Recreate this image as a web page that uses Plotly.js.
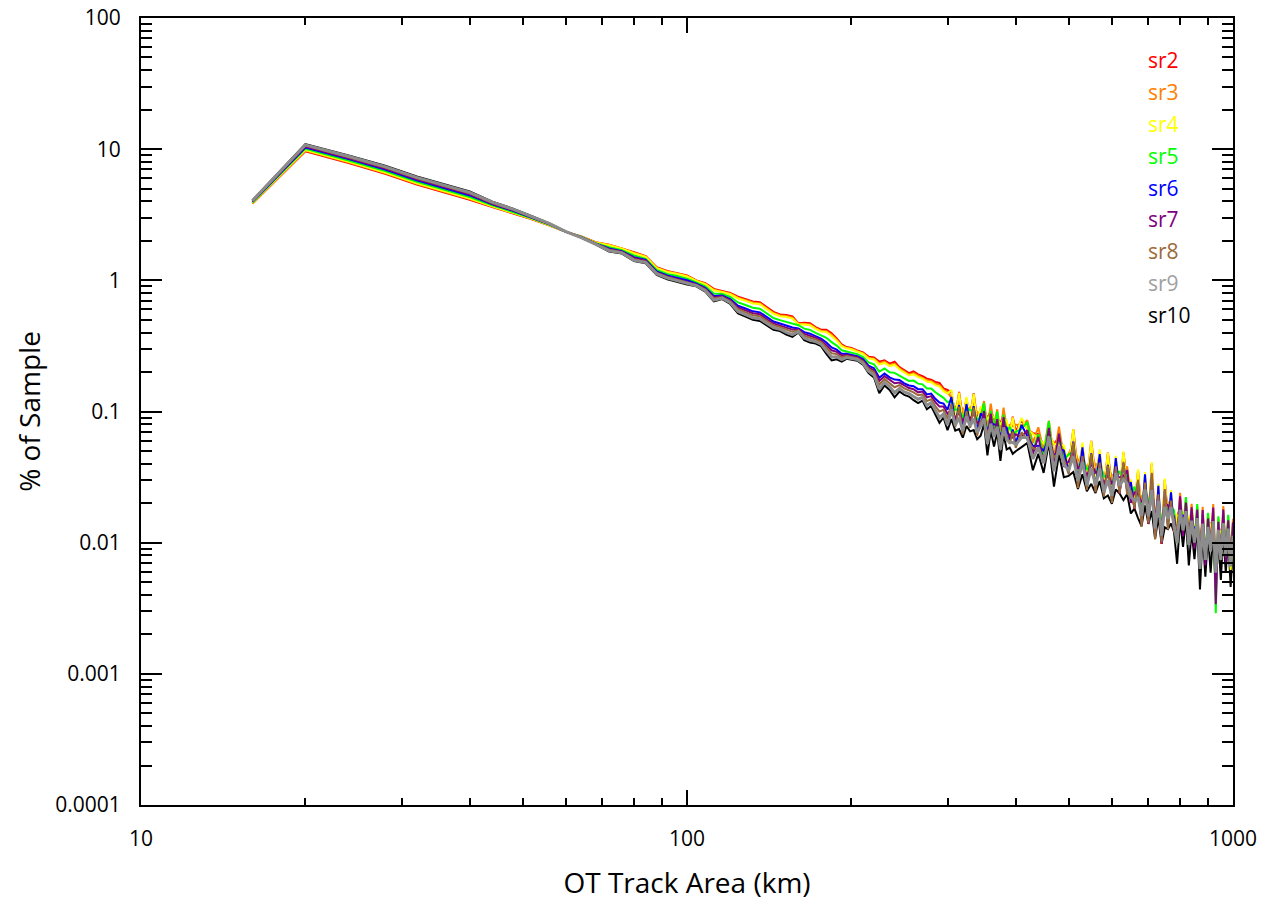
<!DOCTYPE html>
<html>
<head>
<meta charset="utf-8">
<script src="https://cdn.plot.ly/plotly-3.0.1.min.js"></script>
<style>html,body{margin:0;padding:0;background:#fff;}#chart{width:1271px;height:905px;}</style>
</head>
<body>
<div id="chart"></div>
<script>
// OT track area (km^2 bins)
const areaKm = [16,20,24,28,32,36,40,44,48,52,56,60,
 64,68,72,76,80,84,88,92,96,100,104,108,112,116,120,124,128,132,136,140,
 144,148,152,156,160,164,168,172,176,180,184,188,192,196,200,
 205,210,215,220,225,230,235,240,245,250,255,260,265,270,275,280,285,290,295,300,
 305,310,315,320,325,330,335,340,345,350,355,360,365,370,375,380,385,390,395,400,
 410,420,430,440,450,460,470,480,490,500,
 510,520,530,540,550,560,570,580,590,600,
 610,620,630,640,650,660,670,680,690,700,
 710,720,730,740,750,760,770,780,790,800,
 810,820,830,840,850,860,870,880,890,900,
 910,920,930,940,950,960,970,980,990,1000];

const seriesNames = ['sr2','sr3','sr4','sr5','sr6','sr7','sr8','sr9','sr10'];
const seriesColors = ['#ff0000','#ff8000','#ffff00','#00ff00','#0000ff','#800080','#9c6a38','#8c8c8c','#000000'];
const legendColors = ['#ff0000','#ff8000','#ffff00','#00ff00','#0000ff','#800080','#9c6a38','#a0a0a0','#000000'];

const sr2 = [3.85,9.65,7.85,6.50,5.38,4.70,4.12,3.62,3.25,2.92,2.62,2.34,
 2.16,1.95,1.87,1.76,1.64,1.53,1.26,1.18,1.14,1.09,
 1.00,0.95,0.86,0.83,0.80,0.75,0.72,0.69,0.68,0.62,
 0.575,0.55,0.545,0.53,0.47,0.475,0.47,0.44,0.42,0.42,
 0.395,0.36,0.325,0.31,0.305,
 0.292,0.282,0.262,0.258,0.240,0.246,0.232,0.240,0.218,0.206,
 0.196,0.202,0.192,0.186,0.178,0.175,0.168,0.165,0.150,0.146,
 0.140,0.0911,0.141,0.0892,0.124,0.090,0.138,0.0869,0.105,0.103,
 0.0886,0.101,0.0866,0.0889,0.0805,0.095,0.0824,0.0676,0.0913,0.0704,
 0.0859,0.0736,0.0684,0.0672,0.0547,0.0666,0.0567,0.0633,0.0511,0.037,
 0.0734,0.0344,0.0539,0.0283,0.0598,0.032,0.0479,0.025,0.0487,0.0265,
 0.0406,0.0237,0.0484,0.029,0.0267,0.0182,0.0355,0.0165,0.0306,0.0139,
 0.040,0.0131,0.025,0.0098,0.0301,0.0156,0.0223,0.012,0.0159,0.0183,
 0.0148,0.0152,0.0153,0.0151,0.012,0.0134,0.0101,0.0144,0.0089,0.0115,
 0.0137,0.015,0.007,0.0109,0.0119,0.0145,0.0095,0.0111,0.0105,0.0116];

const sr3 = [3.87,9.75,7.94,6.58,5.45,4.76,4.17,3.65,3.27,2.93,2.63,2.34,
 2.16,1.95,1.86,1.75,1.62,1.52,1.25,1.17,1.13,1.08,
 0.993,0.941,0.848,0.822,0.790,0.737,0.707,0.677,0.667,0.608,
 0.564,0.540,0.534,0.519,0.465,0.466,0.461,0.432,0.413,0.410,
 0.385,0.352,0.319,0.306,0.301,
 0.289,0.278,0.257,0.253,0.233,0.240,0.226,0.232,0.213,0.201,
 0.191,0.196,0.187,0.181,0.173,0.170,0.163,0.159,0.146,0.141,
 0.127,0.106,0.119,0.101,0.112,0.105,0.116,0.0982,0.0946,0.120,
 0.0746,0.115,0.0781,0.104,0.0679,0.107,0.0743,0.0788,0.0769,0.0795,
 0.0774,0.0857,0.0577,0.0759,0.0493,0.085,0.0445,0.0767,0.0442,0.0473,
 0.0576,0.0417,0.0466,0.0361,0.0469,0.0388,0.0414,0.0319,0.0382,0.0322,
 0.0339,0.0335,0.0357,0.038,0.0223,0.0257,0.0261,0.0216,0.0256,0.0196,
 0.0295,0.0172,0.0209,0.0139,0.0222,0.0205,0.0186,0.0169,0.0117,0.024,
 0.0124,0.0215,0.0113,0.0198,0.010,0.019,0.0074,0.0188,0.0074,0.0163,
 0.0101,0.0197,0.0059,0.0153,0.0087,0.019,0.0079,0.0157,0.0077,0.0152];

const sr4 = [3.88,9.83,8.00,6.64,5.49,4.80,4.21,3.67,3.29,2.94,2.63,2.34,
 2.15,1.94,1.85,1.74,1.61,1.51,1.24,1.16,1.12,1.07,
 0.988,0.934,0.840,0.817,0.783,0.727,0.697,0.667,0.657,0.600,
 0.556,0.533,0.526,0.511,0.462,0.460,0.454,0.427,0.407,0.403,
 0.377,0.347,0.315,0.303,0.298,
 0.286,0.276,0.254,0.249,0.228,0.235,0.222,0.227,0.209,0.197,
 0.188,0.192,0.183,0.178,0.169,0.167,0.159,0.155,0.143,0.137,
 0.146,0.0906,0.139,0.0818,0.129,0.0895,0.137,0.0797,0.109,0.102,
 0.0876,0.0929,0.0901,0.0885,0.0797,0.0871,0.0857,0.0673,0.0903,0.0645,
 0.0893,0.0732,0.0677,0.0616,0.0569,0.0673,0.0566,0.0562,0.055,0.0374,
 0.0733,0.0306,0.058,0.0285,0.0597,0.0284,0.0515,0.0252,0.0486,0.0236,
 0.0459,0.0248,0.0496,0.0253,0.0302,0.019,0.0363,0.0144,0.0346,0.0145,
 0.041,0.0115,0.0282,0.0103,0.0308,0.0137,0.0252,0.0125,0.0162,0.016,
 0.0168,0.0159,0.0157,0.0132,0.0135,0.014,0.0103,0.0126,0.010,0.012,
 0.014,0.0131,0.0079,0.0113,0.0122,0.0127,0.0107,0.0116,0.0062,0.0101];

const sr5 = [3.92,10.07,8.20,6.81,5.64,4.93,4.32,3.74,3.34,2.97,2.65,2.34,
 2.15,1.92,1.79,1.70,1.55,1.46,1.20,1.12,1.08,1.03,
 0.962,0.901,0.795,0.788,0.747,0.678,0.648,0.618,0.608,0.555,
 0.516,0.497,0.484,0.469,0.455,0.428,0.419,0.398,0.380,0.365,
 0.338,0.318,0.293,0.288,0.283,
 0.274,0.261,0.237,0.229,0.201,0.213,0.199,0.197,0.189,0.179,
 0.171,0.172,0.163,0.161,0.150,0.150,0.140,0.133,0.127,0.118,
 0.120,0.103,0.104,0.0889,0.107,0.102,0.102,0.0866,0.0899,0.116,
 0.0653,0.101,0.0742,0.100,0.0594,0.0947,0.0705,0.0763,0.0673,0.0701,
 0.0736,0.0829,0.0505,0.067,0.0468,0.0845,0.0381,0.0668,0.0429,0.047,
 0.0493,0.0363,0.0453,0.0358,0.0401,0.0338,0.0402,0.0317,0.0327,0.028,
 0.0343,0.0348,0.0303,0.0333,0.0226,0.0267,0.0222,0.0189,0.0259,0.0204,
 0.0251,0.0151,0.0211,0.0144,0.0188,0.0179,0.0189,0.0176,0.0099,0.021,
 0.0125,0.0223,0.0096,0.0173,0.0101,0.0197,0.0063,0.0165,0.0075,0.0169,
 0.0086,0.0172,0.0029,0.0159,0.0074,0.0166,0.008,0.0163,0.0066,0.0133];

const sr6 = [3.97,10.30,8.40,6.99,5.79,5.06,4.44,3.80,3.39,3.00,2.67,2.34,
 2.14,1.91,1.75,1.67,1.50,1.43,1.17,1.09,1.04,1.00,
 0.942,0.875,0.761,0.766,0.719,0.640,0.610,0.580,0.570,0.521,
 0.485,0.469,0.452,0.437,0.429,0.403,0.392,0.376,0.359,0.336,
 0.308,0.296,0.276,0.276,0.272,
 0.264,0.251,0.224,0.214,0.181,0.195,0.182,0.175,0.174,0.164,
 0.158,0.156,0.148,0.148,0.135,0.137,0.125,0.117,0.115,0.103,
 0.129,0.0804,0.112,0.0727,0.114,0.0795,0.110,0.0708,0.0965,0.0906,
 0.0707,0.0826,0.0797,0.0785,0.0643,0.0774,0.0757,0.0597,0.0728,0.0573,
 0.079,0.0649,0.0546,0.0548,0.0503,0.0622,0.0455,0.0521,0.0505,0.0346,
 0.0589,0.0283,0.0532,0.0264,0.0479,0.0263,0.0473,0.0233,0.0391,0.0218,
 0.0441,0.0241,0.0402,0.0248,0.029,0.0185,0.0294,0.0141,0.0332,0.0141,
 0.0332,0.0112,0.0271,0.010,0.0249,0.0133,0.0242,0.0122,0.0132,0.0156,
 0.0161,0.0154,0.0127,0.0129,0.013,0.0137,0.0084,0.0123,0.0096,0.0117,
 0.0113,0.0128,0.0076,0.011,0.0098,0.0124,0.0102,0.0113,0.0087,0.0099];

const sr7 = [3.99,10.46,8.53,7.11,5.89,5.15,4.52,3.84,3.42,3.02,2.68,2.35,
 2.13,1.90,1.73,1.65,1.48,1.41,1.15,1.07,1.02,0.98,
 0.932,0.862,0.744,0.755,0.705,0.621,0.591,0.561,0.551,0.504,
 0.470,0.455,0.436,0.421,0.422,0.390,0.378,0.365,0.349,0.321,
 0.293,0.285,0.267,0.271,0.266,
 0.259,0.245,0.217,0.206,0.171,0.186,0.174,0.164,0.166,0.157,
 0.151,0.148,0.140,0.142,0.128,0.131,0.118,0.109,0.109,0.096,
 0.104,0.0895,0.0978,0.0849,0.0925,0.0884,0.0959,0.0827,0.078,0.101,
 0.0614,0.0965,0.0644,0.0873,0.0559,0.0904,0.0612,0.0664,0.0633,0.067,
 0.0639,0.0722,0.0475,0.064,0.0406,0.0751,0.038,0.0677,0.0378,0.0417,
 0.0492,0.0368,0.0399,0.0319,0.0401,0.0342,0.0354,0.0282,0.0327,0.0284,
 0.0306,0.0316,0.0322,0.0357,0.0201,0.0242,0.0236,0.0203,0.0231,0.0185,
 0.0266,0.0162,0.0188,0.0131,0.020,0.0193,0.0168,0.0159,0.0106,0.0226,
 0.0112,0.0202,0.0102,0.0186,0.009,0.0179,0.0067,0.0177,0.0067,0.0153,
 0.0091,0.0185,0.0034,0.0144,0.0079,0.0179,0.0071,0.0148,0.007,0.0143];

const sr8 = [4.02,10.64,8.69,7.24,6.00,5.25,4.61,3.89,3.46,3.04,2.70,2.35,
 2.13,1.90,1.71,1.64,1.45,1.39,1.14,1.06,1.01,0.965,
 0.922,0.849,0.727,0.744,0.691,0.602,0.572,0.542,0.532,0.487,
 0.454,0.441,0.420,0.405,0.415,0.378,0.365,0.354,0.338,0.307,
 0.278,0.274,0.259,0.265,0.261,
 0.255,0.240,0.211,0.199,0.160,0.177,0.165,0.153,0.159,0.150,
 0.145,0.140,0.133,0.135,0.120,0.124,0.110,0.100,0.103,0.088,
 0.114,0.0761,0.109,0.067,0.101,0.0752,0.107,0.0653,0.0849,0.0857,
 0.0682,0.0761,0.0701,0.0743,0.062,0.0713,0.0666,0.0565,0.0703,0.0528,
 0.0695,0.0614,0.0527,0.0505,0.0442,0.0597,0.0449,0.0481,0.0435,0.0332,
 0.0581,0.0261,0.0458,0.0253,0.0473,0.0243,0.0407,0.0224,0.0386,0.0201,
 0.0381,0.024,0.0413,0.0233,0.025,0.0184,0.0302,0.0132,0.0287,0.0141,
 0.0341,0.0106,0.0234,0.010,0.0256,0.0126,0.0209,0.0121,0.0135,0.0147,
 0.0139,0.0154,0.0131,0.0122,0.0112,0.0136,0.0086,0.0116,0.0083,0.0116,
 0.0116,0.0121,0.0066,0.011,0.0101,0.0117,0.0088,0.0113,0.0089,0.0093];

const sr9 = [4.05,10.79,8.82,7.36,6.10,5.33,4.68,3.94,3.49,3.06,2.71,2.35,
 2.12,1.89,1.68,1.62,1.42,1.37,1.12,1.04,0.99,0.946,
 0.91,0.833,0.707,0.731,0.674,0.579,0.549,0.519,0.509,0.467,
 0.436,0.424,0.401,0.386,0.407,0.363,0.349,0.341,0.326,0.290,
 0.260,0.261,0.249,0.258,0.254,
 0.249,0.233,0.203,0.190,0.148,0.167,0.155,0.139,0.150,0.141,
 0.137,0.130,0.124,0.128,0.111,0.117,0.101,0.090,0.096,0.079,
 0.104,0.0784,0.0898,0.0711,0.0918,0.0775,0.0881,0.0692,0.0774,0.0884,
 0.0564,0.0808,0.0639,0.0765,0.0513,0.0757,0.0608,0.0582,0.0581,0.056,
 0.0634,0.0633,0.0436,0.0535,0.0403,0.0646,0.035,0.0544,0.0392,0.0359,
 0.0453,0.0296,0.0413,0.0274,0.0368,0.0275,0.0367,0.0242,0.030,0.0228,
 0.0339,0.0272,0.0303,0.0282,0.0223,0.0209,0.0222,0.016,0.0255,0.0159,
 0.0251,0.0128,0.0208,0.0113,0.0188,0.0152,0.0186,0.0137,0.0099,0.0178,
 0.0124,0.0174,0.0096,0.0147,0.010,0.0154,0.0063,0.014,0.0074,0.0132,
 0.0086,0.0146,0.0059,0.0125,0.0074,0.0141,0.0079,0.0128,0.0066,0.0113];

const sr10 = [4.08,10.95,8.95,7.48,6.20,5.42,4.76,3.98,3.52,3.08,2.72,2.35,
 2.12,1.88,1.66,1.60,1.40,1.35,1.10,1.02,0.97,0.93,
 0.90,0.82,0.69,0.72,0.66,0.56,0.53,0.50,0.49,0.45,
 0.42,0.41,0.385,0.37,0.40,0.35,0.335,0.33,0.315,0.275,
 0.245,0.25,0.24,0.252,0.248,
 0.244,0.228,0.196,0.182,0.138,0.158,0.146,0.128,0.142,0.134,
 0.130,0.122,0.116,0.121,0.104,0.110,0.094,0.082,0.090,0.072,
 0.0874,0.0714,0.0735,0.0631,0.0775,0.0705,0.0721,0.0615,0.0654,0.0804,
 0.0462,0.0718,0.054,0.0697,0.042,0.0672,0.0513,0.053,0.0476,0.0498,
 0.0535,0.0576,0.0357,0.0476,0.034,0.0581,0.0267,0.0473,0.0315,0.0323,
 0.0346,0.0257,0.0332,0.0247,0.0281,0.0239,0.0295,0.0218,0.0229,0.0198,
 0.0254,0.0237,0.0211,0.0235,0.0167,0.0182,0.0154,0.0134,0.0192,0.0139,
 0.0174,0.0107,0.0156,0.0098,0.0131,0.0127,0.014,0.012,0.0069,0.0149,
 0.0093,0.0152,0.0067,0.0123,0.0075,0.0134,0.0044,0.0117,0.0055,0.0115,
 0.0059,0.0122,0.0044,0.0109,0.0052,0.0118,0.0059,0.0111,0.0046,0.0094];

const seriesValues = [sr2, sr3, sr4, sr5, sr6, sr7, sr8, sr9, sr10];

const xTickVals = [10, 100, 1000];
const xTickText = ['10', '100', '1000'];
const yTickVals = [0.0001, 0.001, 0.01, 0.1, 1, 10, 100];
const yTickText = ['0.0001', '0.001', '0.01', '0.1', '1', '10', '100'];

// draw order: black first, gray last (gray sits on top in the reference)
const drawOrder = [8, 0, 1, 2, 3, 4, 5, 6, 7];
const traces = drawOrder.map(i => ({
  type: 'scatter', mode: 'lines',
  x: areaKm, y: seriesValues[i], name: seriesNames[i],
  line: {color: seriesColors[i], width: i === 7 ? 3 : 2},
  showlegend: false, hoverinfo: 'skip'
}));

function minorVals(d0, d1) {
  const v = [];
  for (let d = d0; d < d1; d++) for (let m = 2; m <= 9; m++) v.push(m * Math.pow(10, d));
  return v;
}

const FONT = '"Open Sans", "Noto Sans", sans-serif';

const annotations = seriesNames.map((n, i) => ({
  xref: 'paper', yref: 'paper', x: 0.92, y: 0.9466 - i * 0.0405,
  xanchor: 'left', yanchor: 'middle', showarrow: false,
  text: n, font: {family: FONT, size: 21, color: legendColors[i]}
}));

const layout = {
  width: 1271, height: 905,
  margin: {l: 141, r: 38, t: 18, b: 100, pad: 0},
  paper_bgcolor: '#ffffff', plot_bgcolor: '#ffffff',
  font: {family: FONT, color: '#000'},
  showlegend: false,
  xaxis: {
    type: 'log', range: [1, 3], autorange: false,
    tickmode: 'array', tickvals: xTickVals, ticktext: xTickText,
    ticks: 'inside', ticklen: 15, tickwidth: 2, tickcolor: '#000',
    minor: {tickmode: 'array', tickvals: minorVals(1, 3), ticks: 'inside', ticklen: 7, tickwidth: 2, tickcolor: '#000', showgrid: false},
    showline: true, linewidth: 2, linecolor: '#000', mirror: 'ticks',
    showgrid: false, zeroline: false,
    tickfont: {family: FONT, size: 21, color: '#000'},
    ticklabelstandoff: 14,
    title: {text: 'OT Track Area (km)', font: {family: FONT, size: 28, color: '#000'}, standoff: 22},
    automargin: false
  },
  yaxis: {
    type: 'log', range: [-4, 2], autorange: false,
    tickmode: 'array', tickvals: yTickVals, ticktext: yTickText,
    ticks: 'inside', ticklen: 21, tickwidth: 2, tickcolor: '#000',
    minor: {tickmode: 'array', tickvals: minorVals(-4, 2), ticks: 'inside', ticklen: 11, tickwidth: 2, tickcolor: '#000', showgrid: false},
    showline: true, linewidth: 2, linecolor: '#000', mirror: 'ticks',
    showgrid: false, zeroline: false,
    tickfont: {family: FONT, size: 21, color: '#000'},
    ticklabelstandoff: 14,
    title: {text: '% of Sample', font: {family: FONT, size: 28, color: '#000'}, standoff: 6},
    automargin: false
  },
  annotations: annotations
};

Plotly.newPlot('chart', traces, layout, {staticPlot: true, displayModeBar: false});
</script>
</body>
</html>
